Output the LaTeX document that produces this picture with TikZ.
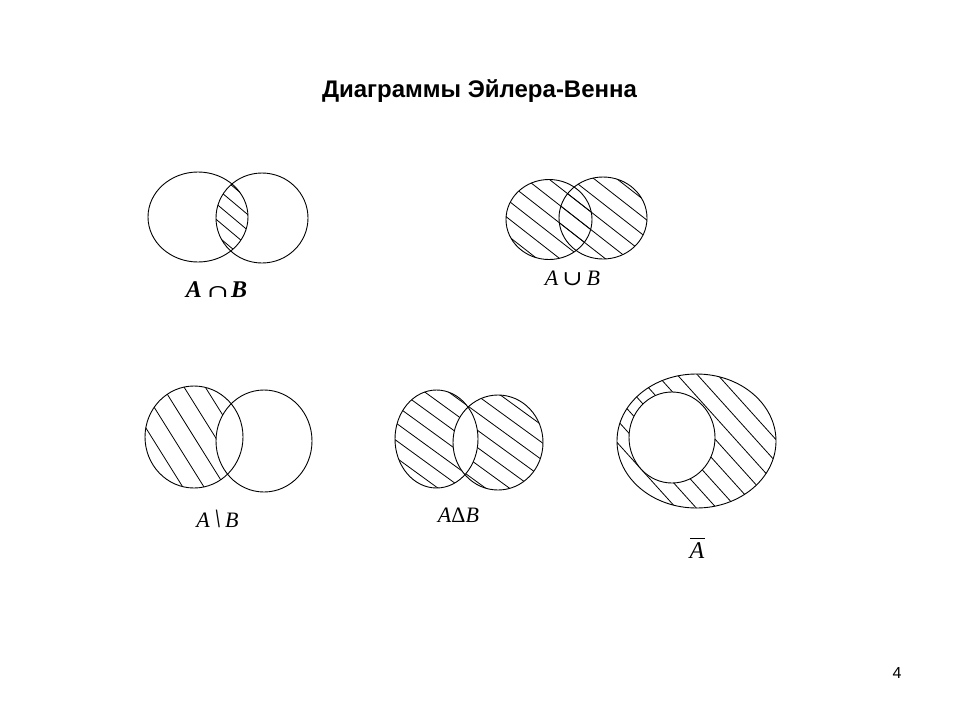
\documentclass[tikz,border=0pt]{standalone}
\usepackage{fontspec}
\setmainfont{Liberation Serif}
\newfontfamily\arialfont{Liberation Sans}
\newfontfamily\symfont{DejaVu Serif}
\newcommand\hatchlines[5]{% cx, cy, angle, spacing, count
  \foreach \k in {-#5,...,#5}{
    \pgfmathsetmacro\px{#1-\k*#4*sin(#3)-200*cos(#3)}
    \pgfmathsetmacro\py{#2+\k*#4*cos(#3)-200*sin(#3)}
    \draw[hatchline] (\px,\py) -- ++(#3:400);
  }}
\tikzset{
  hatchline/.style={line width=0.8pt},
  setline/.style={line width=0.9pt},
  lbl/.style={inner sep=0pt, font=\fontsize{22}{26}\selectfont\itshape},
}
\begin{document}
\begin{tikzpicture}[x=1pt,y=-1pt]
\useasboundingbox (0,0) rectangle (960,720);
\fill[white] (0,0) rectangle (960,720);

% title and page number
\node[font=\arialfont\bfseries\fontsize{24}{28}\selectfont] (title) at (479.5,91) {Диаграммы Эйлера-Венна};
\node[font=\arialfont\fontsize{16}{19}\selectfont] (page) at (897,673) {4};

% ---- 1: intersection
\begin{scope}
  \clip (198,217) ellipse [x radius=50, y radius=45];
  \clip (262,218) ellipse [x radius=46, y radius=45];
  \hatchlines{232}{217}{40}{12}{9}
\end{scope}
\draw[setline] (198,217) ellipse [x radius=50, y radius=45];
\draw[setline] (262,218) ellipse [x radius=46, y radius=45];
\node[lbl, font=\fontsize{24}{28}\selectfont\bfseries\itshape] (l1) at (216.5,290) {A\hspace{5pt}{\symfont\mdseries\upshape\fontsize{22}{26}\selectfont\scalebox{1.2}[0.8]{∩}}\hspace{2pt}B};

% ---- 2: union
\begin{scope}
  \clip (549,219.5) ellipse [x radius=43, y radius=40];
  \hatchlines{576}{218}{38}{14}{8}
\end{scope}
\begin{scope}
  \clip (603,218) ellipse [x radius=44, y radius=41];
  \hatchlines{576}{218}{38}{14}{8}
\end{scope}
\draw[setline] (549,219.5) ellipse [x radius=43, y radius=40];
\draw[setline] (603,218) ellipse [x radius=44, y radius=41];
\node[lbl] (l2) at (572.5,278) {A\hspace{4pt}{\symfont\upshape\fontsize{22}{26}\selectfont\scalebox{1.1}[0.95]{∪}}\hspace{4pt}B};

% ---- 3: difference
\begin{scope}
  \clip (194,437) ellipse [x radius=49, y radius=51];
  \hatchlines{194}{437}{58}{18}{6}
  \fill[white] (264,441) ellipse [x radius=48, y radius=51];
\end{scope}
\draw[setline] (194,437) ellipse [x radius=49, y radius=51];
\draw[setline] (264,441) ellipse [x radius=48, y radius=51];
\node[lbl] (l3) at (217.5,519) {A\hspace{4pt}\scalebox{1.2}{\textbackslash}\hspace{4pt}B};

% ---- 4: symmetric difference
\begin{scope}
  \clip (436.5,439) ellipse [x radius=41.5, y radius=49];
  \hatchlines{467}{440}{36}{14}{8}
\end{scope}
\begin{scope}
  \clip (498,442.5) ellipse [x radius=45, y radius=47.5];
  \hatchlines{467}{440}{36}{14}{8}
\end{scope}
\begin{scope}
  \clip (436.5,439) ellipse [x radius=41.5, y radius=49];
  \fill[white] (498,442.5) ellipse [x radius=45, y radius=47.5];
\end{scope}
\draw[setline] (436.5,439) ellipse [x radius=41.5, y radius=49];
\draw[setline] (498,442.5) ellipse [x radius=45, y radius=47.5];
\node[lbl, font=\fontsize{22}{26}\selectfont\itshape] (l4) at (458.5,515) {A{\upshape Δ}B};

% ---- 5: complement
\begin{scope}
  \clip (696.5,441) ellipse [x radius=79.5, y radius=67];
  \hatchlines{696.5}{441}{48}{15}{10}
\end{scope}
\fill[white] (672,437.5) ellipse [x radius=43, y radius=45.5];
\draw[setline] (696.5,441) ellipse [x radius=79.5, y radius=67];
\draw[setline] (672,437.5) ellipse [x radius=43, y radius=45.5];
\node[lbl, font=\fontsize{24}{28}\selectfont\itshape] (l5) at (697,551) {A};
\draw[line width=0.8pt] (l5.north west) ++(1,-4) -- ++(15,0);
\end{tikzpicture}
\end{document}
